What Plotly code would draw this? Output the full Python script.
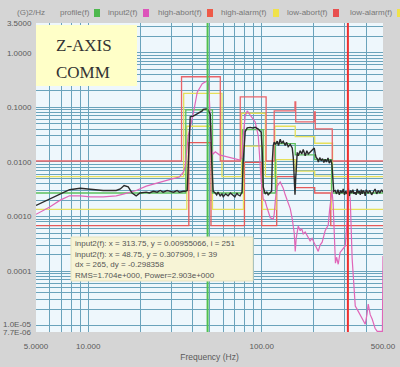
import math
import plotly.graph_objects as go

# ---------------- data ----------------
X_RANGE = [5.0, 500.0]
Y_RANGE = [7.7e-6, 3.5]

x_grid = [5, 6, 7, 8, 9, 10, 20, 30, 40, 50, 60, 70, 80, 90, 100, 200, 300, 400, 500]
x_labels = {5: "5.0000", 10: "10.000", 100: "100.00", 500: "500.00"}

y_grid = [k * 10.0 ** e for e in range(-5, 1) for k in range(1, 10)] + [2.0, 3.0, 3.5]
y_labels = {3.5: "3.5000", 1.0: "1.0000", 0.1: "0.1000", 0.01: "0.0100",
            0.001: "0.0010", 0.0001: "0.0001"}
y_edge_labels = ["1.0E-05", "7.7E-06"]

profile_f = [5, 36.5, 36.5, 52, 52, 77.5, 77.5, 102, 102, 120, 120, 156, 156, 202, 202, 253, 253, 500]
profile_v = [0.0027, 0.0027, 0.09, 0.09, 0.0027, 0.0027, 0.039, 0.039, 0.0027, 0.0027,
             0.0217, 0.0217, 0.0135, 0.0135, 0.011, 0.011, 0.0027, 0.0027]

high_abort_f = [5, 34.5, 34.5, 57.7, 57.7, 75.2, 75.2, 106, 106, 118, 118, 155.5, 155.5, 157, 157,
                200.8, 200.8, 203.5, 203.5, 255, 255, 500]
high_abort_v = [0.0104, 0.0104, 0.363, 0.363, 0.0104, 0.0104, 0.156, 0.156, 0.0104, 0.0104,
                0.0862, 0.0862, 0.126, 0.126, 0.0542, 0.0542, 0.0827, 0.0827, 0.0403, 0.0403,
                0.0104, 0.0104]

high_alarm_f = [5, 35.5, 35.5, 59, 59, 76.5, 76.5, 105, 105, 119, 119, 156, 156, 202, 202, 256, 256, 500]
high_alarm_v = [0.0054, 0.0054, 0.18, 0.18, 0.0054, 0.0054, 0.078, 0.078, 0.0054, 0.0054,
                0.045, 0.045, 0.029, 0.029, 0.022, 0.022, 0.0054, 0.0054]

low_alarm_f = [5, 37, 37, 52, 52, 78.5, 78.5, 101, 101, 121, 121, 156, 156, 202, 202, 252, 252, 500]
low_alarm_v = [0.00135, 0.00135, 0.045, 0.045, 0.00135, 0.00135, 0.0195, 0.0195, 0.00135, 0.00135,
               0.011, 0.011, 0.0068, 0.0068, 0.0055, 0.0055, 0.00135, 0.00135]

low_abort_f = [5, 38, 38, 51, 51, 79.5, 79.5, 100, 100, 122, 122, 156, 156, 202, 202, 250, 250, 500]
low_abort_v = [0.00068, 0.00068, 0.0225, 0.0225, 0.00068, 0.00068, 0.0098, 0.0098, 0.00068, 0.00068,
               0.0054, 0.0054, 0.0034, 0.0034, 0.0027, 0.0027, 0.00068, 0.00068]

control_f = [5.0, 6.0, 6.9, 7.8, 9.0, 10.3, 12.2, 14.5, 15.3, 16.1, 17.0, 17.9, 18.9, 19.9, 21.6,
             22.5, 23.7, 25.0, 26.0, 27.0, 28.5, 29.7, 31.0, 32.5, 33.5, 35.3, 36.2, 37.2, 37.7,
             38.7, 40.3, 42.5, 45.4, 46.0, 48.5, 49.2, 50.5, 51.5, 52.5, 54, 55, 56, 57.6, 59, 60,
             62, 64, 66, 68, 70, 72, 73, 75, 77, 78.2, 80.3, 82.5, 85.8, 89, 91.7, 95.5, 99.3,
             100.7, 102, 104.7, 107, 109, 112, 114, 115, 116.5, 118, 120, 122.8, 125, 127.8, 130,
             133, 136.6, 139, 142.1, 146, 149.9, 152, 154, 155.5, 157, 160.2, 162.3, 166.7, 170,
             173.5, 178, 182, 185.4, 190, 195.5, 200.8, 203.5, 206, 209, 212, 216, 220, 224, 228,
             232, 236, 241, 245, 250, 254, 257, 260, 265, 270, 275, 280, 285, 290, 295, 300, 305,
             310, 315, 320, 325, 330, 335, 340, 345, 350, 355, 360, 365, 370, 375, 380, 385, 390,
             395, 400, 410, 420, 430, 440, 450, 460, 470, 480, 490, 500]
control_v = [0.0016, 0.0021, 0.0026, 0.0031, 0.0033, 0.0032, 0.0030, 0.0030, 0.0032, 0.0037, 0.0035,
             0.0027, 0.0024, 0.0027, 0.0028, 0.0027, 0.0029, 0.0028, 0.0030, 0.0028, 0.0030, 0.0029,
             0.0028, 0.0030, 0.0028, 0.0029, 0.0029, 0.0030, 0.012, 0.067, 0.069, 0.076, 0.086,
             0.092, 0.094, 0.088, 0.075, 0.010, 0.0029, 0.0027, 0.0025, 0.0028, 0.0024, 0.0026,
             0.0023, 0.0026, 0.0024, 0.0027, 0.0025, 0.0023, 0.0027, 0.0025, 0.0024, 0.0028, 0.010,
             0.036, 0.042, 0.043, 0.042, 0.043, 0.040, 0.035, 0.015, 0.0035, 0.0026, 0.0028, 0.0025,
             0.0027, 0.0029, 0.010, 0.020, 0.023, 0.021, 0.024, 0.020, 0.026, 0.022, 0.024, 0.020,
             0.023, 0.019, 0.021, 0.018, 0.012, 0.004, 0.0025, 0.005, 0.015, 0.013, 0.016, 0.014,
             0.017, 0.013, 0.016, 0.014, 0.015, 0.016, 0.018, 0.014, 0.012, 0.0115, 0.010, 0.012,
             0.0105, 0.0115, 0.0098, 0.0112, 0.0100, 0.0118, 0.0095, 0.011, 0.0090, 0.005, 0.0029,
             0.0030, 0.0026, 0.0031, 0.0025, 0.0030, 0.0027, 0.0032, 0.0025, 0.0029, 0.0026, 0.0033,
             0.0024, 0.0030, 0.0027, 0.0031, 0.0026, 0.0028, 0.0025, 0.0032, 0.0027, 0.0029, 0.0025,
             0.0031, 0.0026, 0.0030, 0.0028, 0.0024, 0.0031, 0.0027, 0.0030, 0.0025, 0.0029, 0.0032,
             0.0026, 0.0030, 0.0027, 0.0031, 0.0028]

input2_f = [5.0, 6.0, 6.9, 7.8, 9.0, 10.3, 12.2, 14.5, 16.1, 18.9, 21.6, 26.0, 29.7, 33.5, 35.3,
            36.2, 37.7, 40.3, 42.5, 45.4, 48.75, 49.5, 50.5, 51.5, 52.5, 54.0, 57, 60, 65, 70, 75,
            77, 78.2, 80.3, 82.5, 85, 88, 91.7, 95.5, 97, 99.3, 102, 104.7, 107, 109, 112, 116.5,
            118, 120, 122.8, 127.8, 133, 136.6, 142, 146, 150, 153.9, 156, 158, 162.3, 166.7, 170,
            173.5, 178, 185, 190, 195, 203, 211.7, 217, 223, 232, 241.7, 246, 251, 254, 258, 262,
            266, 270, 276, 283, 291, 302.9, 311, 313.75, 318, 323.7, 332, 346, 355, 369.6, 380,
            395, 404, 411, 422, 433.5, 450, 463, 482, 496, 500]
input2_v = [0.0011, 0.0015, 0.0020, 0.0024, 0.0024, 0.0023, 0.0023, 0.0024, 0.0026, 0.0030, 0.0036,
            0.0043, 0.0048, 0.0053, 0.0065, 0.0081, 0.030, 0.076, 0.19, 0.27, 0.307909, 0.25, 0.05,
            0.016, 0.014, 0.0153, 0.0135, 0.0129, 0.012, 0.0115, 0.0108, 0.012, 0.03, 0.07, 0.086,
            0.075, 0.065, 0.054, 0.03, 0.012, 0.0045, 0.0021, 0.0019, 0.0015, 0.0012, 0.00095,
            0.0009, 0.0011, 0.0021, 0.0036, 0.0043, 0.0033, 0.0025, 0.0017, 0.0014, 0.0009, 0.0005,
            0.00023, 0.0004, 0.00067, 0.00055, 0.0006, 0.00048, 0.00052, 0.00042, 0.00036, 0.0004,
            0.00031, 0.00023, 0.0003, 0.00034, 0.00055, 0.0007, 0.0013, 0.0022, 0.0030, 0.0017,
            0.0005, 0.00014, 0.00018, 0.000134, 0.00022, 0.00025, 0.00029, 0.0009, 0.00955066,
            0.003, 0.0021, 0.00017, 0.000023, 0.000020, 0.000016, 0.000014, 0.0000107, 0.000016,
            0.000025, 0.000016, 0.0000132, 0.000009, 0.0000079, 0.0000079, 0.0000079, 0.00019]

cursor_x = [48.75, 313.75]
cursor_colors = ["#4fc04f", "#ee3030"]

info_lines = ["input2(f): x = 313.75, y = 0.00955066, i = 251",
              "input2(f): x = 48.75, y = 0.307909, i = 39",
              "dx = 265, dy = -0.298358",
              "RMS=1.704e+000, Power=2.903e+000"]
title_lines = ["Z-AXIS", "COMM"]

legend_names = ["profile(f)", "input2(f)", "high-abort(f)", "high-alarm(f)", "low-abort(f)", "low-alarm(f)"]
legend_colors = ["#4db84d", "#dd55bb", "#ee5a48", "#f0e24a", "#e85050", "#f0e24a"]

# ---------------- figure ----------------
W, H = 400, 367
L, R, T, B = 36, 17, 23, 35
PW, PH = W - L - R, H - T - B
BG = "#d5d5d5"


def px(xp):
    return (xp - L) / PW


def py(yp):
    return (H - B - yp) / PH


fig = go.Figure()

line_specs = [
    (low_abort_f, low_abort_v, "#e45a5a", 1.3),
    (low_alarm_f, low_alarm_v, "#e6e05a", 1.3),
    (high_alarm_f, high_alarm_v, "#e6e05a", 1.3),
    (high_abort_f, high_abort_v, "#e8646a", 1.3),
    (profile_f, profile_v, "#5cc05c", 1.3),
    (input2_f, input2_v, "#e066b8", 1.2),
    (control_f, control_v, "#2a2a2a", 1.4),
]
for fx, vy, col, w in line_specs:
    fig.add_trace(go.Scatter(x=fx, y=vy, mode="lines", line=dict(color=col, width=w),
                             showlegend=False, hoverinfo="skip"))

for cx, col in zip(cursor_x, cursor_colors):
    fig.add_trace(go.Scatter(x=[cx, cx], y=Y_RANGE, mode="lines", line=dict(color=col, width=2),
                             showlegend=False, hoverinfo="skip"))

SANS = "Liberation Sans, Arial, sans-serif"
tick_font = dict(family=SANS, size=8, color="#5a5a5a")

fig.update_xaxes(type="log", range=[math.log10(X_RANGE[0]), math.log10(X_RANGE[1])],
                 tickvals=x_grid, ticktext=[x_labels.get(v, "") for v in x_grid],
                 showgrid=True, gridcolor="#6aa3bb", gridwidth=1, zeroline=False,
                 showline=False, ticks="outside", ticklen=6, tickcolor="rgba(0,0,0,0)",
                 tickfont=tick_font, automargin=False,
                 title=dict(text="Frequency (Hz)", font=dict(family=SANS, size=8.5, color="#5a5a5a"),
                            standoff=4))
fig.update_yaxes(type="log", range=[math.log10(Y_RANGE[0]), math.log10(Y_RANGE[1])],
                 tickvals=y_grid, ticktext=[y_labels.get(v, "") for v in y_grid],
                 showgrid=True, gridcolor="#6aa3bb", gridwidth=1, zeroline=False,
                 showline=False, ticks="outside", ticklen=2, tickcolor="rgba(0,0,0,0)",
                 tickfont=tick_font, automargin=False)

shapes = []
annotations = []

# crowded labels at the bottom of the y axis
for txt, yc in zip(y_edge_labels, [324, 332]):
    annotations.append(dict(text=txt, xref="paper", yref="paper", x=px(34), y=py(yc), xanchor="right",
                            yanchor="middle", showarrow=False, font=tick_font))

# Z-AXIS COMM box
shapes.append(dict(type="rect", xref="paper", yref="paper", x0=px(36), x1=px(137), y0=py(86), y1=py(25),
                   fillcolor="#ffffc8", line=dict(width=0), layer="above"))
for txt, yc in zip(title_lines, [45, 73]):
    annotations.append(dict(text=txt, xref="paper", yref="paper", x=px(54), y=py(yc), xanchor="left",
                            yanchor="middle", showarrow=False,
                            font=dict(family="Liberation Serif, DejaVu Serif, serif", size=17, color="#333333")))

# cursor info box
shapes.append(dict(type="rect", xref="paper", yref="paper", x0=px(71), x1=px(253), y0=py(281), y1=py(237),
                   fillcolor="#f7f4d6", line=dict(color="#e6e2c0", width=1), layer="above"))
for txt, yc in zip(info_lines, [243, 254, 264.5, 275]):
    annotations.append(dict(text=txt, xref="paper", yref="paper", x=px(72.5), y=py(yc), xanchor="left",
                            yanchor="middle", showarrow=False,
                            font=dict(family=SANS, size=8, color="#555555")))

# legend row (label followed by colour box)
ly = 13
annotations.append(dict(text="(G)2/Hz", xref="paper", yref="paper", x=px(15), y=py(ly), xanchor="left",
                        yanchor="middle", showarrow=False, font=dict(family=SANS, size=8, color="#777777")))
label_left = [58, 106, 156, 219, 285, 348]
box_left = [94, 143, 207, 273, 333, 397]
for name, col, lx, bx in zip(legend_names, legend_colors, label_left, box_left):
    annotations.append(dict(text=name, xref="paper", yref="paper", x=px(lx), y=py(ly), xanchor="left",
                            yanchor="middle", showarrow=False, font=dict(family=SANS, size=8, color="#777777")))
    shapes.append(dict(type="rect", xref="paper", yref="paper", x0=px(bx), x1=px(bx + 6),
                       y0=py(ly + 4), y1=py(ly - 4), fillcolor=col, line=dict(width=0), layer="above"))

fig.update_layout(width=W, height=H, margin=dict(l=L, r=R, t=T, b=B, autoexpand=False),
                  paper_bgcolor=BG, plot_bgcolor="#eef7fc", hovermode=False,
                  shapes=shapes, annotations=annotations, showlegend=False)

fig.write_html("out.html", config={"displayModeBar": False, "staticPlot": True},
               post_script="document.body.style.margin='0';document.body.style.padding='0';"
                           "document.body.style.overflow='hidden';"
                           "document.body.style.background='" + BG + "';")
